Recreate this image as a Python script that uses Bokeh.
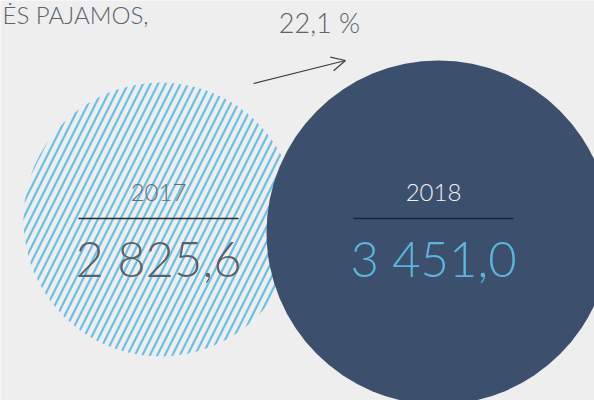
from bokeh.plotting import figure
from bokeh.models import Range1d, ColumnDataSource, Arrow, OpenHead
from bokeh.core.properties import value
from bokeh.embed import file_html
from bokeh.resources import INLINE

# ---- data ----
years = ["2017", "2018"]
revenue = [2825.6, 3451.0]
title_text = "ĖS PAJAMOS,"

def fmt(v):
    s = f"{v:,.1f}"
    return s.replace(",", " ").replace(".", ",")

growth = (revenue[1] / revenue[0] - 1) * 100
growth_label = f"{growth:.1f}".replace(".", ",") + " %"
value_labels = [fmt(v) for v in revenue]

# ---- layout (reference pixel coordinates) ----
BG = "#eeeeee"
FONT = value("Lato Light, Lato, sans-serif")
circ_x = [160, 438]
circ_y = [219, 232]
circ_r = [137, 172]
lab_x = [158, 433]

p = figure(width=594, height=400, x_range=Range1d(0, 594), y_range=Range1d(400, 0),
           output_backend="svg", toolbar_location=None, min_border=0,
           x_axis_location=None, y_axis_location=None,
           background_fill_color=BG, border_fill_color=BG, outline_line_color=None)
p.grid.visible = False

# hatched 2017 circle
p.circle(x=[circ_x[0]], y=[circ_y[0]], radius=[circ_r[0]], fill_color=None, line_color=None,
         hatch_pattern="/", hatch_color="#6dbfe4", hatch_weight=2.2, hatch_scale=15)
# solid 2018 circle
p.circle(x=[circ_x[1]], y=[circ_y[1]], radius=[circ_r[1]], fill_color="#3c506d", line_color=None)

# year labels
src = ColumnDataSource(dict(x=lab_x, year=years, val=value_labels,
                            ycol=["#676c76", "#eef1f5"], vcol=["#5b616b", "#5bb6de"]))
p.text(x="x", y=192, text="year", source=src, text_align="center", text_baseline="alphabetic",
       text_font=FONT, text_font_size="24px", text_color="ycol")
p.text(x="x", y=257, text="val", source=src, text_align="center", text_baseline="alphabetic",
       text_font=FONT, text_font_size="49px", text_color="vcol")
p.segment(x0=[lab_x[0] - 80, lab_x[1] - 80], x1=[lab_x[0] + 80, lab_x[1] + 80],
          y0=[218, 218], y1=[218, 218], line_color=["#2b2b2b", "#1e2535"], line_width=1.3)

# title
p.text(x=[2], y=[14], text=[title_text], text_align="left", text_baseline="alphabetic",
       text_font=FONT, text_font_size="24px", text_color="#5c626d")

# growth label + arrow
p.text(x=[319], y=[22], text=[growth_label], text_align="center", text_baseline="alphabetic",
       text_font=FONT, text_font_size="27px", text_color="#5c626d")
p.add_layout(Arrow(end=OpenHead(size=14, line_width=1.2, line_color="#3a3f4a"),
                   x_start=253, y_start=83, x_end=345, y_end=60,
                   line_color="#3a3f4a", line_width=1.2))

open("out.html", "w").write(file_html(p, INLINE))
